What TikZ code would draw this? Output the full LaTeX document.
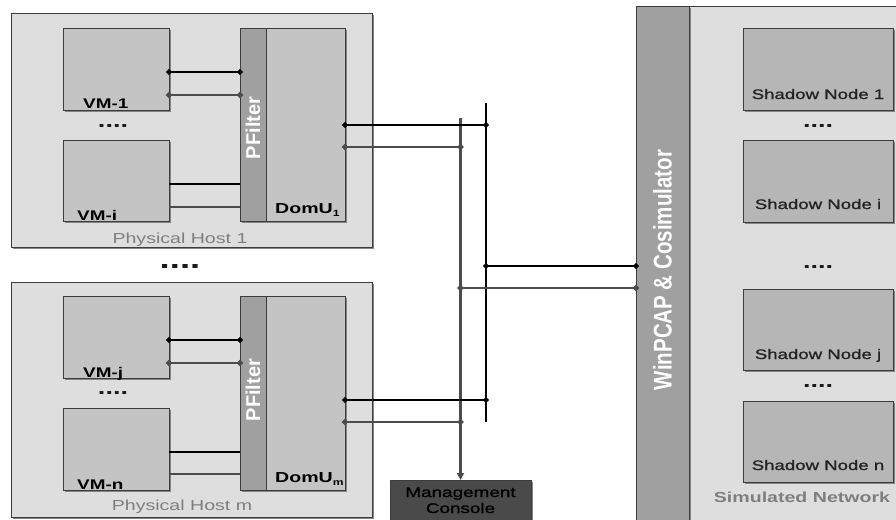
\documentclass[tikz,border=0pt]{standalone}
\usepackage{fontspec}
\setmainfont{Liberation Sans}[FakeStretch=1.35]
\newfontfamily\uprightsans{Liberation Sans}
\newfontfamily\mediumsans{Liberation Sans}[FakeStretch=1.35, FakeBold=1.2]
\usetikzlibrary{arrows.meta,shadows}

\definecolor{hostbg}{HTML}{DEDEDE}
\definecolor{vmfill}{HTML}{C4C4C4}
\definecolor{barfill}{HTML}{A0A0A0}
\definecolor{nodefill}{HTML}{B6B6B6}
\definecolor{consolefill}{HTML}{4A4A4A}
\definecolor{edgecol}{HTML}{3C3C3C}
\definecolor{wiregray}{HTML}{4C4C4C}
\definecolor{labelgray}{HTML}{7E7E7E}
\definecolor{nodetext}{HTML}{222222}

\newcommand{\fs}[1]{\fontsize{#1}{#1}\selectfont}

\tikzset{
  boxbase/.style={draw=edgecol, line width=0.9pt, anchor=north west,
    inner sep=0pt, outer sep=0pt,
    drop shadow={shadow xshift=1.8pt, shadow yshift=-1.8pt, fill=black!48, opacity=1}},
  panel/.style={boxbase, fill=hostbg},
  vmbox/.style={boxbase, fill=vmfill},
  filterbar/.style={boxbase, fill=barfill},
  shadownode/.style={boxbase, fill=nodefill},
  consolebox/.style={boxbase, fill=consolefill},
  wireblack/.style={draw=black, line width=1.8pt},
  wiregrey/.style={draw=wiregray, line width=2.6pt},
  dotted ends/.style={{Circle[length=5.6pt]}-{Circle[length=5.6pt]},
    shorten <=-2.8pt, shorten >=-2.8pt},
  vmlabel/.style={anchor=base west, inner sep=0pt, font=\bfseries\fs{14}},
  hostlabel/.style={anchor=base, inner sep=0pt, text=labelgray, font=\fs{14.5}},
  ellipsis/.style={anchor=base, inner sep=0pt, text=black!90, font=\bfseries\fs{20}},
  domlabel/.style={anchor=base west, inner sep=0pt, font=\bfseries\fs{14.5}},
  snlabel/.style={anchor=base, inner sep=0pt, text=nodetext, font=\mediumsans\fs{13.8}},
  barlabel/.style={rotate=90, inner sep=0pt, text=white},
  consolelabel/.style={anchor=base, inner sep=0pt, text=black, font=\mediumsans\fs{14}},
}

\begin{document}
\begin{tikzpicture}[x=1pt,y=-1pt]
\clip (0,0) rectangle (896,519);
\fill[white] (0,0) rectangle (896,519);

% ---------- physical host 1 ----------
\node[panel, minimum width=361pt, minimum height=234pt] (host1) at (11,13) {};
\node[vmbox, minimum width=106pt, minimum height=82pt] (vm1) at (63,28) {};
\node[vmbox, minimum width=106pt, minimum height=81pt] (vmi) at (63,140) {};
\node[filterbar, minimum width=26pt, minimum height=193pt] (pf1) at (240,28) {};
\node[vmbox, minimum width=79pt, minimum height=193pt] (dom1) at (266,28) {};

\node[vmlabel] (vm1lbl) at (83,108) {VM-1};
\node[vmlabel] (vmilbl) at (77,220) {VM-i};
\node[ellipsis] (dots1) at (113,127) {....};
\node[barlabel, font=\uprightsans\bfseries\fs{20}] (pf1lbl) at (253,128) {PFilter};
\node[domlabel] (dom1lbl) at (275,213) {DomU\raisebox{-3.5pt}{\fs{9}1}};
\node[hostlabel] (host1lbl) at (180,243) {Physical Host 1};

% ---------- gap between hosts ----------
\node[ellipsis, font=\bfseries\fs{27}] (hostdots) at (180,268) {....};

% ---------- physical host m ----------
\node[panel, minimum width=361pt, minimum height=235pt] (hostm) at (11,282) {};
\node[vmbox, minimum width=106pt, minimum height=82pt] (vmj) at (63,296) {};
\node[vmbox, minimum width=106pt, minimum height=82pt] (vmn) at (63,408) {};
\node[filterbar, minimum width=26pt, minimum height=194pt] (pfm) at (240,296) {};
\node[vmbox, minimum width=79pt, minimum height=194pt] (domm) at (266,296) {};

\node[vmlabel] (vmjlbl) at (83,377) {VM-j};
\node[vmlabel] (vmnlbl) at (77,489) {VM-n};
\node[ellipsis] (dotsm) at (113,394) {....};
\node[barlabel, font=\uprightsans\bfseries\fs{20}] (pfmlbl) at (253,390) {PFilter};
\node[domlabel] (dommlbl) at (275,482) {DomU\raisebox{-3.5pt}{\fs{9}m}};
\node[hostlabel] (hostmlbl) at (182,510) {Physical Host m};

% ---------- VM <-> PFilter links ----------
\draw[wireblack, dotted ends] ([yshift=-44pt]vm1.north east) -- ([yshift=-44pt]pf1.north west);
\draw[wiregrey, dotted ends] ([yshift=-67pt]vm1.north east) -- ([yshift=-67pt]pf1.north west);
\draw[wireblack] ([yshift=-44pt]vmi.north east) -- ([yshift=-44pt]vmi.north east -| pf1.west);
\draw[wiregrey] ([yshift=-67pt]vmi.north east) -- ([yshift=-67pt]vmi.north east -| pf1.west);
\draw[wireblack, dotted ends] ([yshift=-44pt]vmj.north east) -- ([yshift=-44pt]pfm.north west);
\draw[wiregrey, dotted ends] ([yshift=-67pt]vmj.north east) -- ([yshift=-67pt]pfm.north west);
\draw[wireblack] ([yshift=-44pt]vmn.north east) -- ([yshift=-44pt]vmn.north east -| pfm.west);
\draw[wiregrey] ([yshift=-66pt]vmn.north east) -- ([yshift=-66pt]vmn.north east -| pfm.west);

% ---------- management console ----------
\node[consolebox, minimum width=141pt, minimum height=45pt] (console) at (390,480) {};
\node[consolelabel] (console1) at (460.5,497) {\color{black}Management};
\node[consolelabel] (console2) at (460.5,513) {\color{black}Console};

% ---------- WinPCAP bar and simulated network ----------
\node[boxbase, fill=hostbg, minimum width=215pt, minimum height=530pt] (simnet) at (689,6) {};
\node[filterbar, minimum width=53pt, minimum height=530pt] (winpcap) at (636,6) {};
\node[barlabel, font=\uprightsans\bfseries\fs{20.5}] (winpcaplbl) at (662.5,270)
  {\scalebox{1}[1.25]{WinPCAP \& Cosimulator}};

\node[shadownode, minimum width=150pt, minimum height=82pt] (sn1) at (743,28) {};
\node[shadownode, minimum width=150pt, minimum height=82pt] (sni) at (743,140) {};
\node[shadownode, minimum width=150pt, minimum height=81pt] (snj) at (743,289) {};
\node[shadownode, minimum width=150pt, minimum height=81pt] (snn) at (743,401) {};
\node[snlabel] (sn1lbl) at (818,99) {Shadow Node 1};
\node[snlabel] (snilbl) at (818,209) {Shadow Node i};
\node[snlabel] (snjlbl) at (818,359) {Shadow Node j};
\node[snlabel] (snnlbl) at (818,470) {Shadow Node n};
\node[ellipsis] (sndots1) at (818,127) {....};
\node[ellipsis] (sndots2) at (818,268) {....};
\node[ellipsis] (sndots3) at (818,387) {....};
\node[anchor=base, inner sep=0pt, text=labelgray, font=\bfseries\fs{14.5}] (simlbl) at (802,502) {Simulated Network};

% ---------- buses ----------
\coordinate (bbusTop) at (486,103);
\coordinate (bbusBot) at (486,422);
\coordinate (gbusTop) at (460.5,118);
\draw[wireblack] (bbusTop) -- (bbusBot);
\draw[wiregrey, -{Triangle[length=7pt,width=7pt]}] (gbusTop) -- (console.north);

% DomU uplinks
\draw[wireblack, dotted ends] ([yshift=-97pt]dom1.north east) coordinate (d1b) -- (d1b -| bbusTop);
\draw[wiregrey, dotted ends] ([yshift=-119pt]dom1.north east) coordinate (d1g) -- (d1g -| gbusTop);
\draw[wireblack, dotted ends] ([yshift=-104pt]domm.north east) coordinate (dmb) -- (dmb -| bbusTop);
\draw[wiregrey, dotted ends] ([yshift=-126pt]domm.north east) coordinate (dmg) -- (dmg -| gbusTop);

% bus taps to WinPCAP
\coordinate (tapb) at (486,266);
\coordinate (tapg) at (460.5,288);
\draw[wireblack, dotted ends] (tapb) -- (tapb -| winpcap.west);
\draw[wiregrey, dotted ends] (tapg) -- (tapg -| winpcap.west);
\end{tikzpicture}
\end{document}
